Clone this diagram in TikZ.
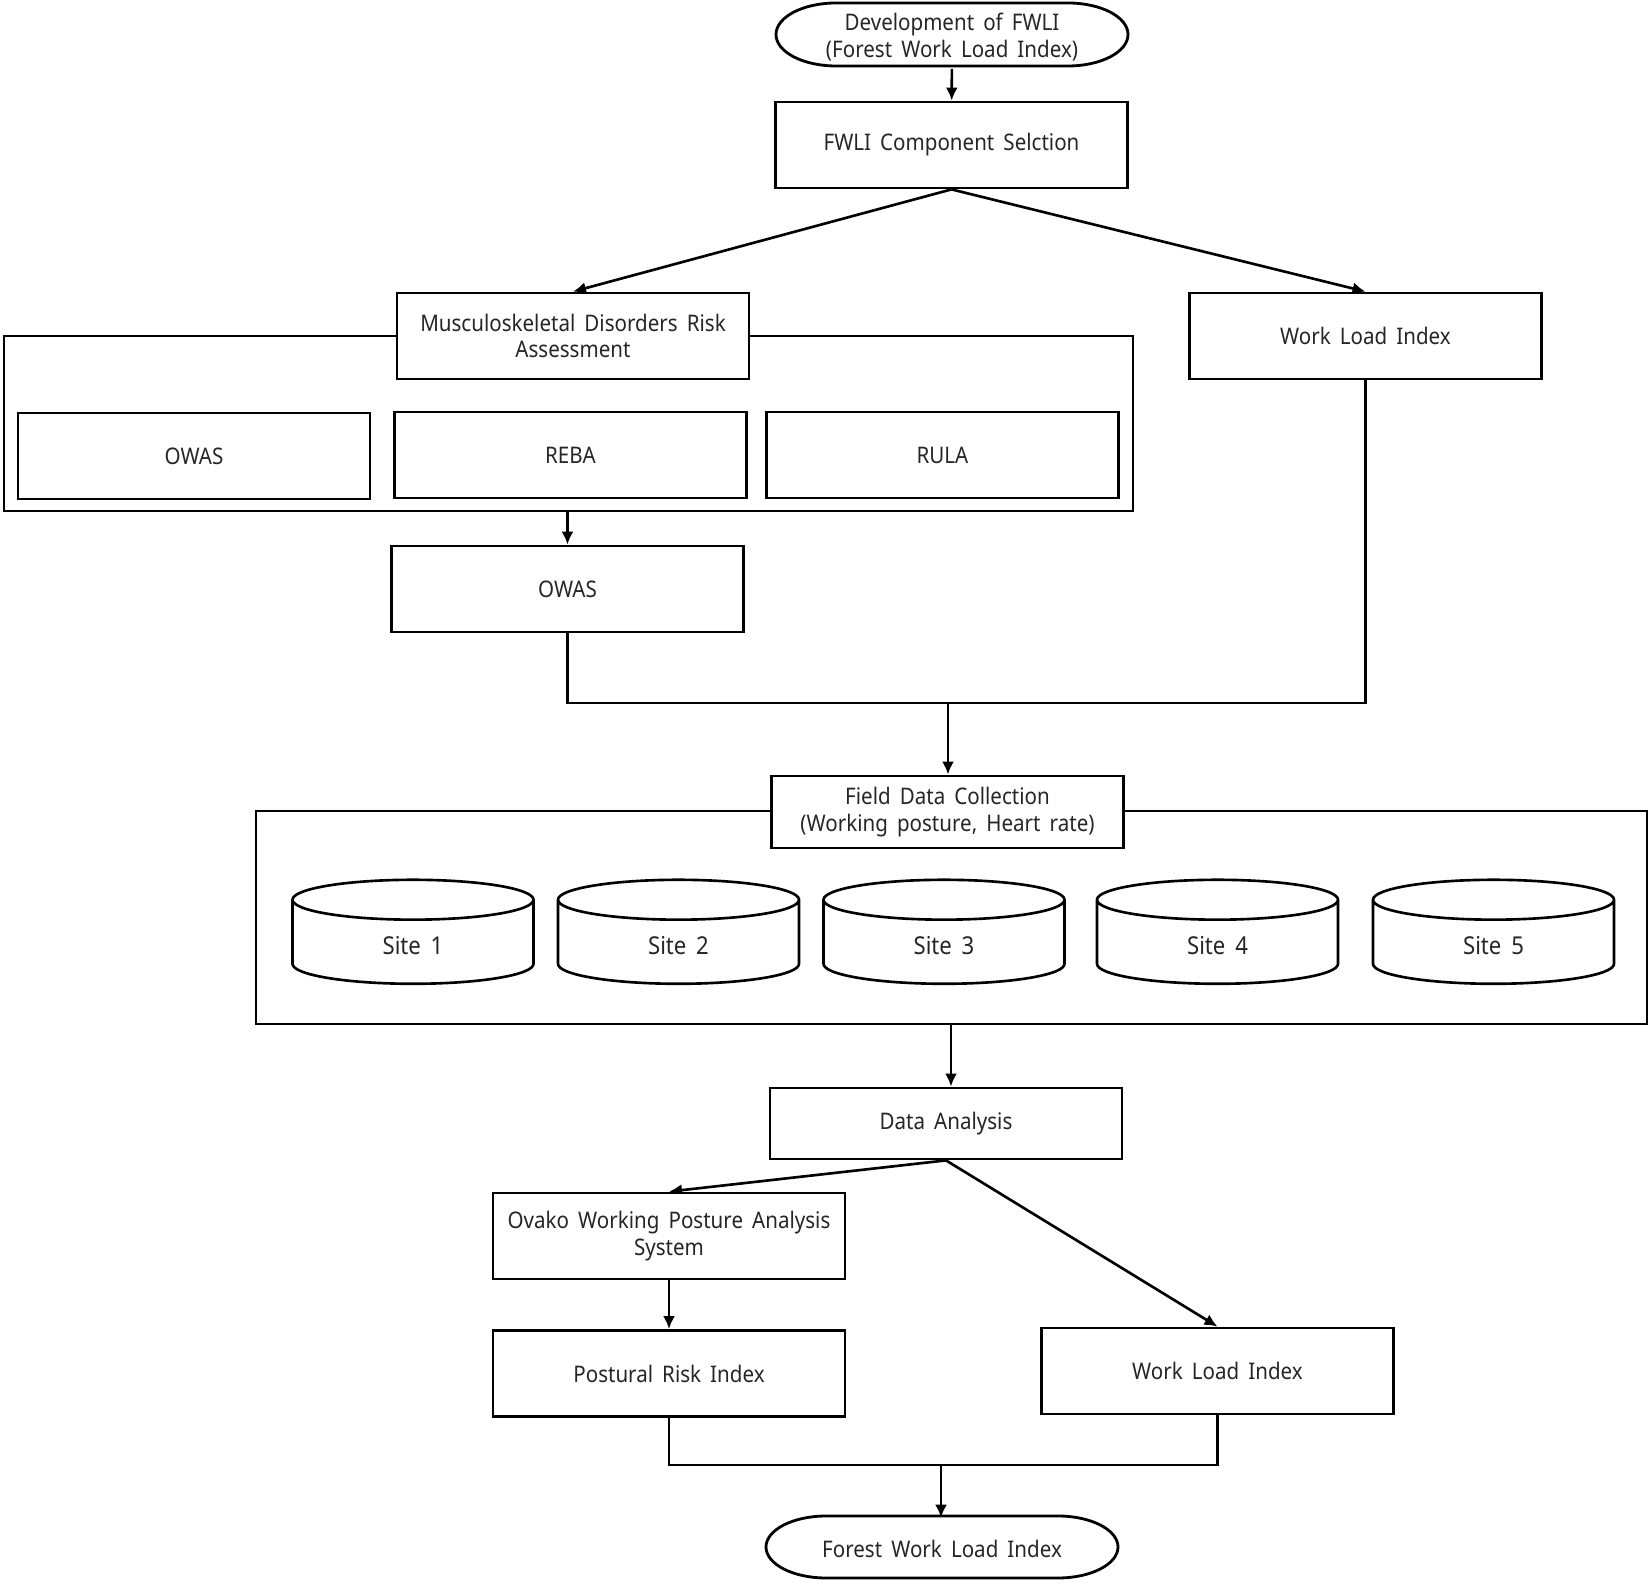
\documentclass[tikz,border=0pt]{standalone}
\usepackage{fontspec}
\setmainfont{Noto Sans}[FakeStretch=0.9,WordSpace=1.7]
\usetikzlibrary{shapes.geometric,arrows.meta}
\pgfdeclarelayer{edgelayer}
\pgfdeclarelayer{nodelayer}
\pgfsetlayers{edgelayer,nodelayer,main}
\tikzstyle{edge}=[draw=black, line width=1.5pt]
\tikzstyle{arrow}=[draw=black, line width=1.5pt, -{Latex[length=0.26cm,width=0.24cm]}]
\tikzstyle{frame}=[draw=black, line width=1.6pt]
\tikzstyle{box}=[rectangle, draw=black, fill=white, line width=1.6pt, minimum width=7.04cm, minimum height=1.72cm, align=center, text=black!85, font=\fontsize{13}{15.3}\selectfont]
\tikzstyle{terminal}=[rectangle, inner sep=0pt, minimum width=7.04cm, minimum height=1.26cm, align=center, text=black!85, font=\fontsize{13}{15.3}\selectfont]
\tikzstyle{outline}=[draw=black, fill=white, line width=1.6pt]
\tikzstyle{site}=[cylinder, shape border rotate=90, aspect=0.55, draw=black, fill=white, line width=1.5pt, minimum width=4.82cm, minimum height=2.08cm, text=black!85, font=\fontsize{14}{16}\selectfont]

\begin{document}
\begin{tikzpicture}
	\useasboundingbox (0, 0) rectangle (33.02, 31.66);
	\begin{pgfonlayer}{nodelayer}
		\draw [style=outline] (16.72, 31.6) -- (21.36, 31.6) arc [start angle=90, end angle=-90, x radius=1.2, y radius=0.63] -- (16.72, 30.34) arc [start angle=270, end angle=90, x radius=1.2, y radius=0.63] -- cycle;
		\node [style=terminal] (0) at (19.04, 30.92) {Development of FWLI\\(Forest Work Load Index)};
		\node [style=box] (1) at (19.03, 28.76) {FWLI Component Selction};
		\node [style=box] (2) at (11.46, 24.94) {Musculoskeletal Disorders Risk\\Assessment};
		\node [style=box] (3) at (27.31, 24.94) {Work Load Index};
		\node [style=box] (4) at (3.88, 22.54) {OWAS};
		\node [style=box] (5) at (11.41, 22.56) {REBA};
		\node [style=box] (6) at (18.85, 22.56) {RULA};
		\node [style=box] (7) at (11.35, 19.88) {OWAS};
		\node [style=box, minimum height=1.44cm] (8) at (18.95, 15.42) {Field Data Collection\\(Working posture, Heart rate)};
		\node [style=site] (14) at (8.26, 12.75) {Site 1};
		\node [style=site] (15) at (13.57, 12.75) {Site 2};
		\node [style=site] (16) at (18.88, 12.75) {Site 3};
		\node [style=site] (17) at (24.35, 12.75) {Site 4};
		\node [style=site] (18) at (29.87, 12.75) {Site 5};
		\node [style=box, minimum height=1.42cm] (9) at (18.92, 9.19) {Data Analysis};
		\node [style=box] (10) at (13.38, 6.94) {Ovako Working Posture Analysis\\System};
		\node [style=box] (11) at (13.38, 4.19) {Postural Risk Index};
		\node [style=box] (12) at (24.35, 4.24) {Work Load Index};
		\draw [style=outline] (16.52, 1.34) -- (21.16, 1.34) arc [start angle=90, end angle=-90, x radius=1.2, y radius=0.62] -- (16.52, 0.1) arc [start angle=270, end angle=90, x radius=1.2, y radius=0.62] -- cycle;
		\node [style=terminal, minimum width=7cm, minimum height=1.24cm] (13) at (18.84, 0.68) {Forest Work Load Index};
	\end{pgfonlayer}
	\begin{pgfonlayer}{edgelayer}
		% group frames
		\draw [style=frame] (0.08, 24.94) rectangle (22.66, 21.44);
		\draw [style=frame] (5.12, 15.44) rectangle (32.94, 11.18);
		\coordinate (c0) at (11.35, 21.44);
		\coordinate (c1) at (11.35, 17.6);
		\coordinate (c2) at (27.31, 17.6);
		\coordinate (c3) at (18.96, 17.6);
		\coordinate (c4) at (19.02, 11.18);
		\coordinate (c5) at (13.38, 2.36);
		\coordinate (c6) at (24.35, 2.36);
		\coordinate (c7) at (18.82, 2.36);
		\draw [style=arrow] (0) to (1);
		\draw [style=arrow] (1.south) to (2.north);
		\draw [style=arrow] (1.south) to (3.north);
		\draw [style=arrow] (c0) to (7.north);
		\draw [style=edge] (7.south) -- (c1) -- (c2) -- (3.south);
		\draw [style=arrow] (c3) to (c3 |- 8.north);
		\draw [style=arrow] (c4) to (c4 |- 9.north);
		\draw [style=arrow] (9.south) to (10.north);
		\draw [style=arrow] (9.south) to (12.north);
		\draw [style=arrow] (10) to (11);
		\draw [style=edge] (11.south) -- (c5) -- (c6) -- (12.south);
		\draw [style=arrow] (c7) to (c7 |- 13.north);
	\end{pgfonlayer}
\end{tikzpicture}
\end{document}
